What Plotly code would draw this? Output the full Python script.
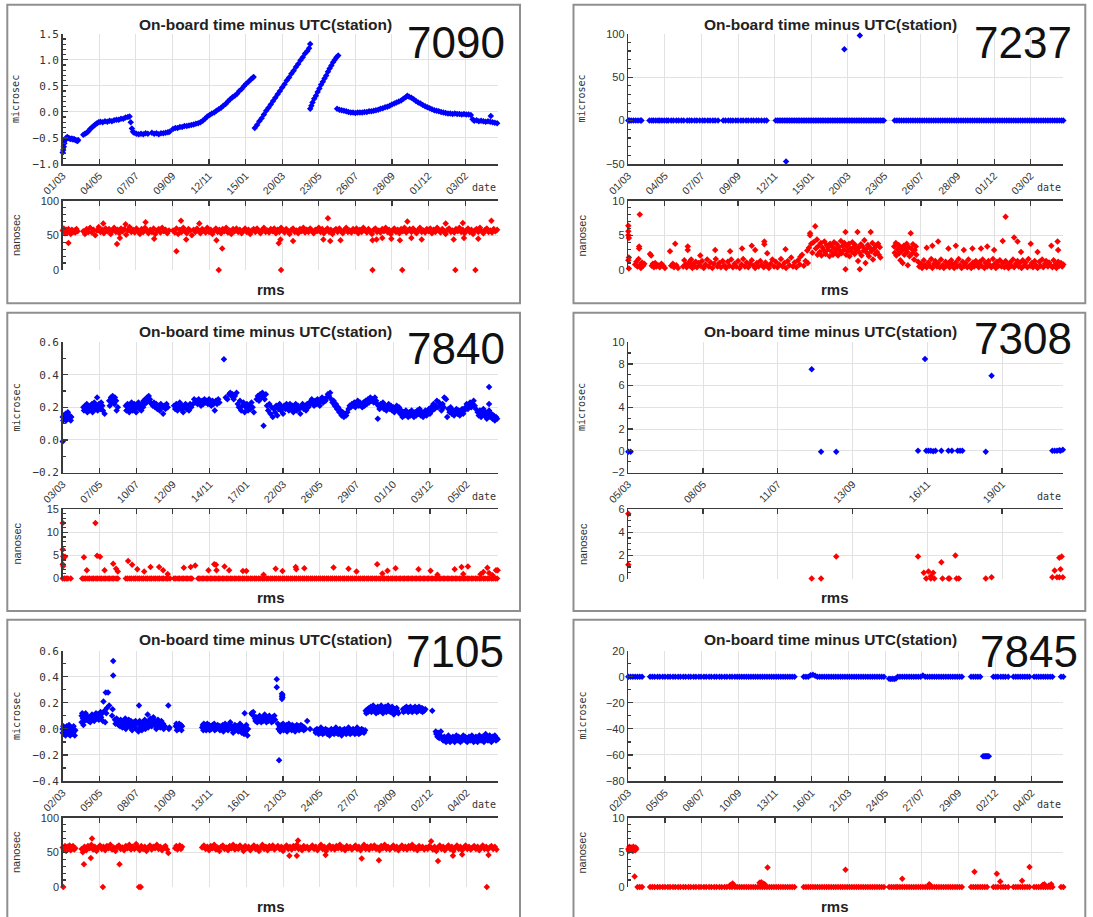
import plotly.graph_objects as go

# ---------------- tick labels (dd/mm) ----------------
TICK_DAYS = [0, 64, 128, 192, 256, 320, 384, 448, 512, 576, 640, 704]
TICK_DAYS_7308 = [0, 64, 128, 192, 256, 320]
LBL_7090 = ['01/03', '04/05', '07/07', '09/09', '12/11', '15/01', '20/03', '23/05', '26/07', '28/09', '01/12', '03/02']
LBL_7237 = ['01/03', '04/05', '07/07', '09/09', '12/11', '15/01', '20/03', '23/05', '26/07', '28/09', '01/12', '03/02']
LBL_7840 = ['03/03', '07/05', '10/07', '12/09', '14/11', '17/01', '22/03', '26/05', '29/07', '01/10', '03/12', '05/02']
LBL_7308 = ['05/03', '08/05', '11/07', '13/09', '16/11', '19/01']
LBL_7105 = ['02/03', '05/05', '08/07', '10/09', '13/11', '16/01', '21/03', '24/05', '27/07', '29/09', '02/12', '04/02']
LBL_7845 = ['02/03', '05/05', '08/07', '10/09', '13/11', '16/01', '21/03', '24/05', '27/07', '29/09', '02/12', '04/02']

# ---------------- data: (day index, value) ----------------
# 7090  on-board minus UTC (microsec)
U7090 = [
(0,-0.78),(1,-0.73),(2,-0.67),(3,-0.60),(4,-0.55),(6,-0.50),(8,-0.48),(10,-0.50),(12,-0.51),(14,-0.52),(16,-0.51),(18,-0.53),(20,-0.52),(22,-0.54),(24,-0.55),(26,-0.56),(27,-0.54),
(36,-0.44),(39,-0.42),(42,-0.40),(45,-0.37),(48,-0.33),(51,-0.30),(54,-0.27),(57,-0.24),(60,-0.22),(63,-0.20),(66,-0.19),(70,-0.20),(74,-0.18),(78,-0.19),(82,-0.17),(86,-0.18),(90,-0.16),(94,-0.15),(98,-0.15),(102,-0.13),(106,-0.13),(110,-0.11),(114,-0.10),(117,-0.09),(119,-0.20),(121,-0.32),(123,-0.38),(125,-0.40),(129,-0.42),(133,-0.43),(137,-0.42),(141,-0.43),(145,-0.41),(149,-0.42),
(156,-0.40),(160,-0.42),(164,-0.41),(168,-0.43),(172,-0.41),(176,-0.41),(180,-0.40),(184,-0.39),(187,-0.38),
(193,-0.33),(197,-0.31),(201,-0.31),(205,-0.29),(209,-0.29),(213,-0.27),(217,-0.27),(221,-0.26),(225,-0.25),(229,-0.24),(233,-0.23),(237,-0.22),(241,-0.20),(245,-0.17),(249,-0.13),(253,-0.09),(257,-0.06),(261,-0.03),(265,-0.01),(269,0.02),(273,0.05),(277,0.08),(281,0.12),(285,0.15),(289,0.20),(293,0.24),(297,0.28),(301,0.31),(305,0.35),(309,0.40),(313,0.44),(317,0.49),(321,0.54),(325,0.58),(329,0.62),(332,0.65),(334,0.67),
(336,-0.31),(340,-0.25),(344,-0.18),(348,-0.12),(352,-0.05),(356,0.02),(360,0.08),(364,0.14),(368,0.21),(372,0.27),(376,0.34),(380,0.40),(384,0.47),(388,0.53),(392,0.60),(396,0.66),(400,0.73),(404,0.79),(408,0.86),(412,0.92),(416,0.99),(420,1.05),(424,1.12),(428,1.17),(431,1.22),(433,1.30),
(433,0.06),(435,0.12),(437,0.18),(440,0.25),(443,0.31),(446,0.38),(449,0.45),(452,0.52),(455,0.58),(458,0.64),(461,0.70),(464,0.77),(467,0.83),(470,0.89),(473,0.95),(476,1.00),(479,1.05),(482,1.08),
(480,0.06),(484,0.04),(488,0.03),(492,0.02),(496,0.01),(500,0.00),(504,-0.01),(508,-0.01),(512,-0.02),(516,-0.01),(520,-0.01),(524,-0.01),(528,0.00),(532,0.00),(536,0.01),(540,0.01),(544,0.02),(548,0.03),(552,0.04),(556,0.06),(560,0.07),(564,0.09),(568,0.10),(572,0.12),(576,0.14),(580,0.16),(584,0.18),(588,0.20),(592,0.22),(596,0.25),(600,0.28),(603,0.31),(606,0.29),(610,0.27),(614,0.24),(618,0.21),(622,0.18),(626,0.16),(630,0.13),(634,0.11),(638,0.09),(642,0.07),(646,0.05),(650,0.03),(654,0.02),(658,0.01),(662,0.00),(666,-0.01),(670,-0.02),(674,-0.03),(678,-0.03),(682,-0.04),(686,-0.03),(690,-0.04),(694,-0.04),(698,-0.05),(702,-0.04),(706,-0.05),(710,-0.05),(714,-0.06),(717,-0.14),(720,-0.17),(724,-0.16),(728,-0.18),(732,-0.17),(736,-0.18),(740,-0.19),(744,-0.18),(748,-0.19),(752,-0.20),(756,-0.21),(760,-0.22),(749,-0.08)]

# 7090 rms (nanosec)
R7090 = [
(0,57),(2,60),(4,53),(6,58),(8,55),(10,59),(12,56),(14,52),(16,58),(18,55),(20,57),(22,54),(24,59),(26,56),(10,39),
(36,56),(39,52),(42,59),(45,55),(48,61),(51,54),(54,58),(57,50),(60,57),(63,62),(66,55),(69,58),(72,53),(75,60),(78,56),(81,59),(84,52),(87,57),(90,61),(93,55),(96,58),(99,53),(102,60),(105,56),(108,59),(111,51),(114,57),(117,62),(120,55),(123,58),(126,54),(129,60),(132,56),(135,52),(138,59),(141,55),(144,61),(147,57),(150,53),(153,58),(156,55),(159,60),(162,52),(165,57),(168,59),(171,54),(174,61),(177,56),(180,58),(183,53),(186,57),
(71,67),(95,37.5),(110,66),(145,69),(100,46),(160,45),
(193,57),(196,54),(199,60),(202,52),(205,58),(208,55),(211,61),(214,56),(217,53),(220,59),(223,57),(226,50),(229,58),(232,55),(235,60),(238,56),(241,53),(244,59),(247,57),(250,54),(253,61),(256,55),(259,58),(262,52),(265,57),(268,60),(271,55),(274,58),(277,53),(280,59),(283,56),(286,61),(289,54),(292,57),(295,52),(298,59),(301,56),(304,60),(307,55),(310,58),(313,53),(316,57),(319,60),(322,55),(325,58),(328,52),(331,57),(334,59),(337,55),(340,60),(343,56),(346,53),(349,58),(352,61),(355,55),(358,57),(361,54),(364,59),(367,56),(370,60),(373,53),(376,58),(379,55),(382,61),(385,57),(388,54),(391,59),(394,56),(397,52),(400,58),(403,60),(406,55),(409,57),(412,53),(415,59),(418,56),(421,61),(424,54),(427,58),(430,55),(433,60),(436,57),(439,53),(442,58),(445,56),(448,61),(451,55),(454,59),(457,53),(460,57),(463,60),(466,55),(469,58),(472,52),(475,57),(478,59),(481,55),(484,60),(487,56),(490,53),(493,58),(496,61),(499,55),(502,57),(505,54),(508,59),(511,56),(514,60),(517,53),(520,58),(523,55),(526,61),(529,57),(532,54),(535,59),(538,56),(541,52),(544,58),(547,60),(550,55),(553,57),(556,54),(559,59),(562,56),(565,61),(568,55),(571,58),(574,52),(577,57),(580,60),(583,55),(586,58),(589,53),(592,59),(595,56),(598,61),(601,54),(604,57),(607,59),(610,55),(613,60),(616,56),(619,53),(622,58),(625,61),(628,55),(631,57),(634,54),(637,59),(640,56),(643,60),(646,53),(649,58),(652,55),(655,61),(658,57),(661,54),(664,59),(667,56),(670,52),(673,58),(676,60),(679,55),(682,57),(685,54),(688,59),(691,56),(694,61),(697,55),(700,58),(703,53),(706,57),(709,60),(712,55),(715,58),(718,52),(721,57),(724,59),(727,55),(730,61),(733,56),(736,53),(739,58),(742,60),(745,55),(748,57),(751,54),(754,59),(757,56),(760,58),
(273,0),(382,0),(542,0),(594,0),(687,0),(722,0),
(207,71),(199,27),(216,44),(239,67),(279,31),(269,43),(378,38.5),(403,42),(456,44),(464,74.5),(468,42),(486,43),(542,43),(603,70),(670,67),(700,68),(750,71),
(381,44),(549,44),(559,46),(575,45),(590,43),(610,46),(628,44),(684,44),(702,46),(727,45)]

# 7237
U7237 = [
(0,0),(2,0),(5,0),(9,0),(13,0),(17,0),(21,0),(23,0),
(37,0),(41,0),(44,0),(48,0),(52,0),(55,0),(59,0),(63,0),(67,0),(70,0),(75,0),(79,0),(84,0),(88,0),(93,0),(97,0),
(103,0),(107,0),(111,0),(116,0),(120,0),(125,0),(130,0),(134,0),(139,0),(143,0),(148,0),(152,0),(157,0),
(166,0),(170,0),(175,0),(179,0),(183,0),(188,0),(192,0),(197,0),(201,0),(206,0),(210,0),(215,0),(219,0),(224,0),(228,0),(233,0),(238,0),(242,0),
(258,0),(261,0),(264,0),(267,0),(270,0),(273,0),(276,0),(279,0),(282,0),(285,0),(288,0),(291,0),(294,0),(297,0),(300,0),(303,0),(306,0),(309,0),(312,0),(315,0),(318,0),(321,0),(324,0),(327,0),(330,0),(333,0),(336,0),(339,0),(342,0),(345,0),(348,0),(351,0),(354,0),(357,0),(360,0),(363,0),(366,0),(369,0),(372,0),(375,0),(378,0),(381,0),(384,0),(387,0),(390,0),(393,0),(396,0),(399,0),(402,0),(405,0),(408,0),(411,0),(414,0),(417,0),(420,0),(423,0),(426,0),(429,0),(432,0),(435,0),(438,0),(441,0),(444,0),(447,0),
(466,0),(470,0),(474,0),(478,0),(482,0),(486,0),(490,0),(494,0),(498,0),(502,0),(506,0),(510,0),(514,0),(518,0),(522,0),(526,0),(530,0),(534,0),(538,0),(542,0),(546,0),(550,0),(554,0),(558,0),(562,0),(566,0),(570,0),(574,0),(578,0),(582,0),(586,0),(590,0),(594,0),(598,0),(602,0),(606,0),(610,0),(614,0),(618,0),(622,0),(626,0),(630,0),(634,0),(638,0),(642,0),(646,0),(650,0),(654,0),(658,0),(662,0),(666,0),(670,0),(674,0),(678,0),(682,0),(686,0),(690,0),(694,0),(698,0),(702,0),(706,0),(710,0),(714,0),(718,0),(722,0),(726,0),(730,0),(734,0),(738,0),(742,0),(746,0),(750,0),(754,0),(758,0),(761,0),
(276,-47),(378,82),(405,98)]

R7237 = [
(0,6.4),(0,5.6),(0,5.0),(1,4.6),(1,1.8),(0,1.4),(1,0.2),(19,3.4),(19,3.1),(20,8.0),
(12,0.8),(14,1.2),(16,0.5),(18,1.6),(20,0.7),(22,0.3),(24,1.1),(26,0.6),(28,0.9),(38,2.3),(40,2.1),(41,0.6),(43,0.9),(45,0.4),(47,1.0),(49,0.5),(52,0.7),(55,0.4),(58,0.9),(61,0.6),(64,0.3),(73,2.7),(75,0.6),(78,0.9),(80,0.4),(82,3.8),(84,0.7),(87,0.3),(96,0.5),(98,1.4),(100,0.8),(102,0.4),(104,3.4),(104,2.9),(106,1.1),(108,0.6),(110,1.5),(112,0.3),(114,0.9),(116,0.5),(118,1.2),
(120,0.4),(123,1.0),(126,2.1),(126,0.6),(129,1.3),(132,0.3),(135,0.8),(138,1.5),(141,0.5),(144,1.1),(147,0.3),(150,0.9),(152,2.9),(153,1.6),(156,0.5),(159,1.0),(162,0.4),(165,1.3),(168,0.7),(171,0.3),(174,1.2),(177,0.6),(178,2.7),(180,1.5),(183,0.4),(186,0.9),(189,0.5),(192,1.3),(195,0.3),(198,0.8),(199,3.1),(201,1.6),(204,0.5),(207,1.1),(210,0.4),(213,0.9),(216,3.5),(216,1.4),(219,0.6),(222,2.9),(222,0.3),(225,1.0),(228,0.5),(231,1.3),(234,0.7),(237,0.4),(238,4.1),(238,3.7),(240,1.1),(243,2.4),(243,0.6),(246,0.3),(249,0.9),(252,1.5),(255,0.5),(258,1.2),(261,0.4),(264,0.8),(267,1.6),(270,0.5),(273,1.0),(275,3.0),(276,0.3),(279,1.3),(282,0.7),(285,1.8),(288,0.5),(291,1.1),(294,0.4),(297,1.4),(300,0.8),(301,1.9),(304,2.2),(307,0.6),(310,1.3),(313,2.8),(314,1.0),
(316,3.2),(318,5.0),(318,5.3),(320,3.8),(322,2.5),(324,4.0),(327,6.3),(328,3.1),(330,4.4),(331,2.2),
(333,3.5),(335,2.6),(337,3.9),(338,2.1),(340,3.2),(342,2.8),(343,4.1),(345,2.3),(347,3.6),(348,2.9),(350,3.3),(352,2.0),(353,3.8),(355,2.7),(357,3.4),(358,2.2),(360,4.0),(362,3.0),(363,2.5),(365,3.7),(367,2.1),(368,3.3),(370,2.8),(372,4.2),(373,2.4),(375,3.5),(377,2.9),(378,3.9),(380,5.5),(380,0.1),(381,2.2),(382,3.4),(384,2.7),(386,3.8),(387,2.0),(389,3.1),(391,2.6),(392,4.0),(394,3.3),(396,2.3),(397,3.6),(399,2.9),(401,5.5),(402,1.3),(403,3.2),(405,0.1),(405,2.5),(407,3.7),(408,2.1),(410,3.4),(412,2.8),(413,4.3),(415,1.0),(416,3.0),(418,2.4),(419,3.6),(421,2.0),(423,3.2),(424,5.5),(425,2.7),(427,3.9),(428,1.5),(430,3.1),(432,2.3),(433,3.5),(435,2.6),(437,3.8),(438,2.2),(440,3.3),(441,1.8),
(465,3.4),(466,2.5),(468,3.9),(469,2.1),(471,3.0),(473,3.6),(474,2.4),(476,1.4),(477,3.2),(479,2.8),(480,1.0),(482,3.5),(483,2.2),(485,3.0),(487,3.8),(488,2.6),(489,0.7),(491,3.3),(492,2.0),(494,5.3),(495,3.1),(497,2.4),(498,3.7),(500,1.5),(501,2.9),(503,3.4),(504,2.2),
(507,1.2),(509,0.5),(512,0.9),(514,0.3),(517,1.4),(519,0.7),(522,3.2),(522,0.4),(525,1.1),(527,0.6),(530,1.6),(532,3.5),(532,0.3),(535,0.9),(537,1.3),(540,0.5),(542,4.1),(542,1.0),(545,0.4),(547,1.5),(550,0.7),(552,0.3),(555,1.2),(557,0.6),(560,3.1),(560,1.0),(562,0.4),(565,1.4),(567,0.8),(570,0.3),(573,3.5),(573,1.1),(575,0.5),(578,1.6),(580,0.7),(583,0.3),(585,1.2),(587,2.9),(588,0.6),(590,1.0),(593,0.4),(595,1.5),(598,0.7),(600,0.3),(602,3.1),(603,1.1),(605,0.5),(608,1.3),(610,0.8),(613,0.4),(615,1.2),(617,3.1),(618,0.6),(620,1.5),(623,0.3),(625,1.0),(628,3.4),(628,0.5),(630,1.3),(633,0.7),(635,0.4),(638,1.6),(640,2.9),(640,0.8),(643,0.3),(645,1.2),(648,0.6),(650,1.4),(653,0.5),(655,4.2),(655,1.0),(658,0.4),(660,7.7),(660,1.3),(663,0.7),(665,0.3),(668,1.1),(670,0.6),(673,1.5),(675,4.7),(675,0.4),(678,0.9),(681,4.1),(681,1.3),(683,0.5),(685,1.0),(687,2.6),(688,0.3),(690,1.4),(693,0.7),(695,1.1),(698,0.4),(700,1.6),(703,0.6),(704,3.8),(706,1.0),(708,0.4),(711,1.3),(713,0.7),(716,2.6),(716,0.3),(719,1.2),(721,0.6),(724,1.5),(726,0.4),(729,0.9),(731,1.3),(734,0.5),(736,1.1),(739,0.7),(740,3.5),(742,0.4),(744,1.4),(747,0.8),(749,0.3),(751,4.1),(752,2.9),(752,1.2),(754,0.6),(757,1.0),(759,0.5),(761,0.8)]

# 7840
U7840 = [
(0,0.14),(1,0.12),(2,0.15),(0,-0.01),(3,0.13),(5,0.16),(6,0.12),(8,0.14),(9,0.17),(11,0.13),(12,0.15),(14,0.12),(15,0.14),
(36,0.20),(37,0.18),(39,0.21),(40,0.19),(42,0.22),(43,0.17),(45,0.20),(46,0.18),(48,0.21),(49,0.19),(51,0.22),(52,0.17),(54,0.20),(55,0.23),(57,0.19),(58,0.21),(60,0.26),(61,0.18),(63,0.22),(64,0.20),(66,0.19),(67,0.23),(69,0.21),(70,0.18),(73,0.16),
(81,0.24),(82,0.21),(84,0.26),(85,0.23),(87,0.27),(88,0.25),(90,0.22),(91,0.26),(93,0.24),(94,0.18),(96,0.20),
(110,0.21),(111,0.18),(113,0.22),(114,0.20),(116,0.17),(117,0.21),(119,0.19),(120,0.23),(122,0.18),(123,0.20),(125,0.22),(126,0.19),(128,0.17),(129,0.21),(131,0.20),(132,0.23),(134,0.19),(135,0.21),(137,0.18),(138,0.22),(140,0.20),(141,0.24),(143,0.22),(144,0.25),(146,0.23),(147,0.26),(149,0.24),(150,0.27),(152,0.25),(153,0.23),(155,0.22),
(157,0.21),(159,0.23),(161,0.20),(163,0.22),(165,0.19),(167,0.21),(169,0.18),(171,0.22),(173,0.20),(175,0.16),(177,0.21),(179,0.19),(181,0.22),(183,0.20),
(194,0.21),(196,0.19),(198,0.22),(200,0.18),(202,0.20),(204,0.23),(206,0.19),(208,0.21),(210,0.17),(212,0.20),(214,0.22),(216,0.19),(218,0.21),(220,0.18),(222,0.22),(224,0.20),
(227,0.22),(229,0.25),(231,0.23),(233,0.24),(235,0.22),(237,0.25),(239,0.23),(241,0.21),(243,0.24),(245,0.22),(247,0.25),(249,0.23),(251,0.24),(253,0.22),(255,0.25),(257,0.23),(259,0.21),(261,0.24),(263,0.22),(265,0.18),(267,0.24),(269,0.22),(271,0.25),(273,0.23),
(281,0.495),(284,0.26),(287,0.25),(290,0.28),(292,0.29),(294,0.27),(296,0.28),(298,0.25),(300,0.27),(303,0.29),
(305,0.22),(307,0.20),(309,0.24),(311,0.18),(313,0.21),(315,0.23),(317,0.17),(319,0.20),(321,0.22),(323,0.18),(325,0.21),(327,0.19),(329,0.23),(331,0.20),(333,0.17),
(338,0.25),(340,0.27),(342,0.24),(344,0.28),(346,0.26),(348,0.29),(350,0.27),(352,0.25),(354,0.28),(350,0.087),
(356,0.21),(358,0.18),(360,0.22),(362,0.16),(364,0.20),(366,0.14),(368,0.19),(370,0.17),(372,0.21),(374,0.15),(376,0.19),(378,0.22),(380,0.18),(382,0.20),(384,0.16),(386,0.21),(388,0.19),
(390,0.22),(392,0.20),(394,0.18),(396,0.22),(398,0.19),(400,0.21),(402,0.17),(404,0.20),(406,0.22),(408,0.18),(410,0.21),(412,0.19),(414,0.16),(416,0.20),(418,0.22),(420,0.19),(422,0.21),(424,0.18),(426,0.22),(428,0.20),(430,0.23),
(432,0.22),(434,0.25),(436,0.23),(438,0.21),(440,0.24),(442,0.22),(444,0.25),(446,0.23),(448,0.21),(450,0.24),(452,0.26),(454,0.23),(456,0.25),(458,0.24),(460,0.26),(462,0.28),(464,0.27),(466,0.29),
(468,0.25),(470,0.23),(472,0.24),(474,0.21),(476,0.22),(478,0.19),(480,0.20),(482,0.17),(484,0.18),(486,0.15),(488,0.17),(490,0.14),(492,0.16),(494,0.15),(496,0.17),
(498,0.19),(500,0.21),(502,0.20),(504,0.22),(506,0.21),(508,0.23),(510,0.20),(512,0.22),(514,0.24),(516,0.21),(518,0.23),(520,0.22),(522,0.20),(524,0.23),(526,0.21),(528,0.24),(530,0.22),(532,0.25),(534,0.23),(536,0.26),(538,0.24),
(540,0.25),(542,0.23),(544,0.26),(546,0.24),(548,0.22),(549,0.13),
(550,0.21),(552,0.19),(554,0.22),(556,0.20),(558,0.23),(560,0.19),(562,0.21),(564,0.18),(566,0.20),(568,0.22),(570,0.19),(572,0.21),(574,0.18),(576,0.20),(578,0.17),(580,0.19),(582,0.21),(584,0.18),(586,0.20),
(588,0.16),(590,0.18),(592,0.14),(594,0.17),(596,0.15),(598,0.18),(600,0.16),(602,0.14),(604,0.17),(606,0.15),(608,0.18),(610,0.16),(612,0.14),(614,0.17),(616,0.15),(618,0.18),(620,0.16),(622,0.19),(624,0.15),(626,0.17),(628,0.14),(630,0.16),(632,0.18),(634,0.15),(636,0.17),(638,0.19),(640,0.16),
(642,0.20),(644,0.18),(646,0.22),(648,0.19),(650,0.21),(652,0.24),(654,0.20),(656,0.23),(658,0.21),(660,0.18),(662,0.22),(664,0.20),(665,0.26),(670,0.14),
(668,0.25),(672,0.19),(674,0.17),(676,0.20),(678,0.16),(680,0.18),(682,0.15),(684,0.17),(686,0.19),(688,0.16),(690,0.18),(692,0.15),(694,0.17),(696,0.19),(698,0.16),(700,0.18),
(702,0.20),(704,0.22),(706,0.19),(708,0.21),(710,0.23),(712,0.20),(714,0.22),(716,0.24),(718,0.21),(720,0.19),
(723,0.17),(725,0.15),(727,0.18),(729,0.14),(731,0.16),(733,0.19),(735,0.15),(737,0.17),(739,0.13),(741,0.16),(743,0.18),(745,0.14),(747,0.16),(749,0.13),(751,0.15),(753,0.12),(755,0.14),(757,0.13),
(743,0.325),(743,0.22)]

R7840 = [
(0,0),(3,0),(6,0),(9,0),(14,0),
(34,0),(37,0),(40,0),(44,0),(47,0),(51,0),(54,0),(58,0),(61,0),(65,0),(68,0),(72,0),(75,0),(79,0),(82,0),(86,0),(89,0),(93,0),(96,0),
(110,0),(113,0),(117,0),(120,0),(124,0),(127,0),(131,0),(134,0),(138,0),(141,0),(145,0),(148,0),(152,0),(155,0),(159,0),(162,0),(166,0),(169,0),(173,0),(176,0),(180,0),(183,0),(187,0),
(194,0),(197,0),(201,0),(204,0),(208,0),(211,0),(215,0),(218,0),(222,0),(225,0),
(236,0),(239,0),(243,0),(246,0),(250,0),(253,0),(257,0),(260,0),(264,0),(267,0),(271,0),(274,0),(278,0),(281,0),(285,0),(288,0),(292,0),(295,0),(299,0),(302,0),(306,0),(309,0),(313,0),(316,0),(320,0),(323,0),(327,0),(330,0),(334,0),(337,0),(341,0),(344,0),(348,0),(351,0),(355,0),(358,0),(362,0),(365,0),(369,0),(372,0),(376,0),(379,0),(383,0),(386,0),(390,0),(393,0),(397,0),(400,0),(404,0),(407,0),(411,0),(414,0),(418,0),(421,0),(425,0),(428,0),(432,0),(435,0),(439,0),(442,0),(446,0),(449,0),(453,0),(456,0),(460,0),(463,0),(467,0),(470,0),(474,0),(477,0),(481,0),(484,0),(488,0),(491,0),(495,0),(498,0),(502,0),(505,0),(509,0),(512,0),(516,0),(519,0),(523,0),(526,0),(530,0),(533,0),(537,0),(540,0),(544,0),(547,0),(551,0),(554,0),(558,0),(561,0),(565,0),(568,0),(572,0),(575,0),(579,0),(582,0),(586,0),(589,0),(593,0),(596,0),(600,0),(603,0),(607,0),(610,0),(614,0),(617,0),(621,0),(624,0),(628,0),(631,0),(635,0),(638,0),(642,0),(645,0),(649,0),(652,0),(656,0),(659,0),(663,0),(666,0),(670,0),(673,0),(677,0),(680,0),(684,0),(687,0),(691,0),(694,0),(698,0),(701,0),(705,0),(708,0),(712,0),(715,0),(719,0),(722,0),(726,0),(729,0),(733,0),(736,0),(740,0),(743,0),(747,0),(750,0),(754,0),(757,0),
(0,12.0),(0,6.3),(1,4.8),(0,3.1),(1,2.7),(4,4.7),(37,4.6),(42,1.8),(57,12.0),(60,4.9),(65,4.7),(73,1.8),(88,3.2),(93,2.1),(96,1.5),(114,3.8),(121,3.0),(130,2.0),(142,1.5),(153,2.5),(168,2.5),(175,1.8),(183,1.0),(211,2.3),(223,2.5),(231,2.8),(254,1.8),(264,3.1),(267,3.0),(268,1.8),(282,2.6),(290,1.8),(314,1.6),(320,1.6),(350,0.8),(371,2.1),(383,1.6),(406,2.5),(407,2.0),(421,2.2),(472,2.4),(498,2.1),(512,1.5),(548,3.1),(557,1.1),(566,1.7),(580,2.2),(620,2.0),(641,1.7),(653,0.8),(683,2.0),(695,2.5),(698,1.0),(706,2.6),(728,0.9),(733,1.4),(740,2.3),(743,1.2),(749,0.7),(755,1.8),(758,1.8)]

# 7308
U7308 = [(0,-0.1),(2,-0.1),(157,7.5),(165,-0.1),(178,-0.1),(248,0.0),(254,8.45),(255,0.0),(257,0.0),(259,0.0),(261,-0.05),(263,0.0),(268,0.0),(274,0.0),(277,0.0),(282,0.0),(284,0.0),(286,0.0),(306,-0.1),(311,6.9),(363,0.0),(365,0.0),(367,0.0),(369,0.05),(370,0.0),(372,0.1)]
R7308 = [(0,5.6),(0,1.2),(157,0.0),(165,0.0),(178,1.9),(248,1.9),(253,0.5),(255,0.0),(257,0.6),(259,0.2),(259,0.0),(261,0.5),(262,0.0),(268,1.4),(269,0.0),(274,0.0),(275,0.0),(280,2.0),(281,0.0),(283,0.0),(306,0.0),(311,0.1),(363,0.1),(365,0.7),(367,0.1),(369,0.1),(369,1.8),(370,0.8),(371,1.9),(372,0.1)]

# 7105
U7105 = [
(0,0.0),(0,-0.03),(1,0.02),(2,-0.04),(3,-0.01),(4,0.01),(5,-0.05),(6,-0.02),(7,0.02),(8,-0.03),(9,0.0),(10,-0.04),(11,0.03),(12,-0.02),(13,-0.05),(14,0.01),(15,-0.03),(16,0.0),(17,-0.01),(18,-0.04),(19,0.02),(20,-0.02),(21,-0.05),(22,-0.01),
(33,0.05),(33,0.10),(34,0.12),(35,0.08),(36,0.03),(37,0.11),(38,0.06),(39,0.09),(40,0.12),(41,0.07),(42,0.10),
(45,0.06),(46,0.09),(48,0.05),(49,0.08),(51,0.11),(52,0.07),(54,0.10),(55,0.06),(57,0.09),(58,0.12),(60,0.08),(61,0.11),(63,0.07),(64,0.10),(66,0.13),(67,0.09),(69,0.12),(70,0.06),
(71,0.21),(75,0.28),(79,0.28),(76,0.12),(81,0.18),(77,0.16),(73,0.14),(74,0.05),
(87,0.15),(88,0.52),(88,0.41),(86,0.10),
(91,0.07),(92,0.04),(94,0.08),(95,0.05),(97,0.03),(98,0.06),(100,0.02),(101,0.07),(103,0.04),(104,0.01),(106,0.06),(107,0.03),(109,0.08),(110,0.00),(112,0.05),(113,0.02),(115,0.07),(116,0.04),(118,0.01),(119,0.06),(121,-0.01),(122,0.03),(124,0.05),(125,0.02),(127,0.06),(128,0.00),
(133,0.18),
(131,0.04),(132,-0.02),(134,0.06),(135,0.01),(137,0.03),(138,-0.01),(140,0.05),(141,0.02),(143,0.07),(144,0.00),(146,0.04),(148,0.11),(149,0.01),(150,0.06),(152,0.03),(153,0.08),(155,0.02),(157,0.05),(158,0.09),(160,0.03),(161,0.06),(163,0.00),(164,0.04),(166,0.07),(167,0.02),(169,0.05),(170,0.01),(172,0.06),(173,0.03),(175,0.04),(176,0.00),(178,0.02),
(184,0.18),(185,0.0),(186,0.01),
(197,0.02),(198,0.04),(199,-0.01),(200,0.03),(202,0.0),(203,0.04),(204,0.01),(206,0.03),(207,-0.01),(208,0.02),
(243,0.01),(244,0.03),(245,-0.01),(246,0.04),(247,0.02),(248,0.0),(249,0.03),(250,-0.01),(251,0.02),(252,0.04),(254,0.01),(255,0.03),(256,-0.01),(258,0.02),(259,0.0),(261,0.03),(262,0.01),(264,0.04),(265,-0.01),(267,0.02),(268,0.0),(270,0.03),(271,0.01),(273,0.02),(274,-0.01),
(276,0.02),(277,0.00),(279,0.03),(280,-0.02),(282,0.01),(283,0.04),(285,0.0),(286,0.02),(288,-0.01),(289,0.03),(291,0.01),(292,0.05),(294,0.0),(295,0.02),(297,-0.03),(298,0.01),(300,0.03),(301,-0.01),(303,0.02),(304,0.0),(306,-0.02),(307,0.02),(309,0.04),(310,-0.01),
(312,-0.03),(313,0.02),(315,0.0),(316,-0.04),(317,0.12),(318,0.01),(319,-0.02),(320,0.03),(322,-0.05),(323,0.0),
(329,0.12),(330,0.11),(332,0.13),(333,0.10),(335,0.08),
(336,0.06),(337,0.09),(339,0.05),(340,0.08),(342,0.06),(343,0.10),(345,0.07),(346,0.05),(348,0.09),(349,0.06),(351,0.08),(352,0.11),(354,0.07),(355,0.05),(357,0.09),(358,0.06),(360,0.10),(361,0.07),(363,0.08),(364,0.05),(366,0.09),(367,0.06),(369,0.10),(370,0.07),
(373,0.38),(373,0.32),(377,-0.24),(382,0.25),(382,0.23),(382,0.27),(383,0.26),(383,0.24),
(375,0.04),(376,0.0),(378,0.02),(379,-0.02),(381,0.03),(382,0.0),(384,0.04),(385,-0.01),(387,0.02),(388,0.0),(390,0.03),(391,-0.02),(393,0.01),(394,0.04),(396,0.0),(397,0.02),(399,-0.01),(400,0.03),(402,0.0),(403,0.02),(405,-0.02),(406,0.01),(408,0.03),(409,0.0),(411,0.02),(412,-0.01),(414,0.01),(415,0.03),(417,0.0),(418,0.02),(420,-0.01),(421,0.01),(423,0.0),
(426,0.06),(431,0.0),
(440,-0.01),(441,-0.03),(443,0.0),(444,-0.02),(446,-0.04),(447,-0.01),(449,-0.03),(450,0.01),(452,-0.02),(453,-0.04),(455,-0.01),(456,-0.03),(458,0.0),(459,-0.02),(461,-0.04),(462,-0.01),(464,-0.03),(465,-0.05),(467,-0.02),(468,0.0),(470,-0.03),(471,-0.01),(473,-0.04),(474,-0.02),(476,0.01),(477,-0.03),(479,-0.01),(480,-0.04),(482,-0.02),(483,0.0),(485,-0.03),(486,-0.05),(488,-0.01),(489,-0.03),(491,0.0),(492,-0.02),(494,-0.04),(495,-0.01),(497,-0.03),(498,0.01),(500,-0.02),(501,-0.04),(503,-0.01),(504,-0.03),(506,0.0),(507,-0.02),(509,-0.04),(510,-0.01),(512,-0.03),(513,0.01),(515,-0.02),(516,-0.04),(518,-0.01),(519,-0.03),(521,0.0),(522,-0.02),(524,-0.01),(525,-0.03),(527,-0.01),
(528,0.14),(529,0.12),(531,0.15),(532,0.13),(534,0.16),(535,0.14),(537,0.17),(538,0.13),(540,0.15),(541,0.18),(543,0.14),(544,0.16),(546,0.12),(547,0.15),(549,0.17),(550,0.13),(552,0.16),(553,0.14),(555,0.18),(556,0.15),(558,0.12),(559,0.16),(561,0.14),(562,0.17),(564,0.13),(565,0.15),(567,0.18),(568,0.14),(570,0.16),(571,0.13),(573,0.15),(574,0.17),(576,0.14),(577,0.11),(579,0.15),(580,0.13),(582,0.16),(583,0.14),(585,0.12),
(593,0.15),(594,0.13),(596,0.16),(597,0.14),(599,0.17),(600,0.15),(602,0.13),(603,0.16),(605,0.14),(606,0.17),(608,0.15),(609,0.13),(611,0.16),(612,0.14),(614,0.17),(615,0.15),(617,0.13),(618,0.16),(620,0.14),(621,0.17),(623,0.15),(624,0.14),(626,0.16),(627,0.13),(629,0.15),(630,0.14),(632,0.15),
(644,0.14),
(650,-0.02),(651,-0.04),(653,-0.06),(654,-0.03),(656,-0.07),(657,-0.05),(659,-0.02),(660,-0.06),
(662,-0.07),(663,-0.09),(665,-0.06),(666,-0.08),(668,-0.10),(669,-0.07),(671,-0.09),(672,-0.05),(674,-0.08),(675,-0.10),(677,-0.07),(678,-0.09),(680,-0.06),(681,-0.08),(683,-0.10),(684,-0.07),(686,-0.05),(687,-0.08),(689,-0.09),(690,-0.06),(692,-0.08),(693,-0.10),(695,-0.07),(696,-0.09),(698,-0.05),(699,-0.08),(701,-0.06),(702,-0.09),(704,-0.07),(705,-0.10),(707,-0.08),(708,-0.06),(710,-0.09),(711,-0.07),(713,-0.05),(714,-0.08),(716,-0.10),(717,-0.07),(719,-0.09),(720,-0.06),(722,-0.08),(723,-0.10),(725,-0.07),(726,-0.05),(728,-0.08),(729,-0.09),(731,-0.06),(732,-0.08),(734,-0.10),(735,-0.07),(737,-0.04),(738,-0.08),(740,-0.06),(741,-0.09),(743,-0.07),(744,-0.05),(746,-0.08),(747,-0.10),(749,-0.06),(750,-0.08),(752,-0.07),(753,-0.05),(755,-0.09),(756,-0.07),(758,-0.08)]

R7105 = [
(0,57),(2,54),(4,59),(6,52),(8,58),(10,55),(12,60),(14,53),(16,57),(18,59),(20,54),(22,56),
(33,55),(35,50),(38,58),(41,53),(44,59),(47,56),(50,61),(53,54),(56,58),(59,52),(62,57),(65,60),(68,55),(71,58),(74,53),(77,59),(80,56),(83,61),(86,54),(89,57),(92,52),(95,58),(98,60),(101,55),(104,57),(107,53),(110,59),(113,56),(116,61),(119,54),(122,58),(125,55),(128,62),(131,57),(134,53),(137,59),(140,55),(143,58),(146,52),(149,57),(152,60),(155,54),(158,58),(161,56),(164,61),(167,55),(170,58),(173,53),(176,57),(179,59),(182,54),(196,56),(198,59),(200,54),(202,57),(204,60),(206,55),(208,58),
(243,57),(246,60),(249,55),(252,58),(255,53),(258,59),(261,56),(264,61),(267,54),(270,57),(273,52),(276,58),(279,60),(282,55),(285,57),(288,53),(291,59),(294,56),(297,61),(300,54),(303,58),(306,55),(309,60),(312,57),(315,52),(318,59),(321,56),(324,58),(327,53),(330,57),(333,60),(336,55),(339,58),(342,52),(345,57),(348,61),(351,55),(354,58),(357,53),(360,59),(363,56),(366,60),(369,54),(372,57),(375,59),(378,55),(381,58),(384,52),(387,57),(390,60),(393,55),(396,58),(399,54),(402,59),(405,56),(408,61),(411,55),(414,57),(417,53),(420,59),(423,56),(426,58),(429,54),(432,57),(435,60),(438,55),(441,58),(444,53),(447,57),(450,61),(453,55),(456,58),(459,52),(462,57),(465,60),(468,55),(471,58),(474,54),(477,59),(480,56),(483,61),(486,55),(489,57),(492,53),(495,59),(498,56),(501,58),(504,54),(507,57),(510,60),(513,55),(516,58),(519,53),(522,57),(525,61),(528,55),(531,58),(534,54),(537,59),(540,56),(543,60),(546,55),(549,57),(552,53),(555,59),(558,56),(561,61),(564,55),(567,58),(570,54),(573,57),(576,60),(579,55),(582,58),(585,53),(588,57),(591,60),(594,55),(597,58),(600,54),(603,59),(606,56),(609,61),(612,55),(615,57),(618,53),(621,59),(624,56),(627,58),(630,54),(633,57),(636,55),(639,59),(642,57),(645,54),(648,58),(651,52),(654,57),(657,60),(660,55),(663,58),(666,53),(669,57),(672,60),(675,55),(678,58),(681,52),(684,57),(687,60),(690,55),(693,58),(696,53),(699,57),(702,60),(705,55),(708,58),(711,54),(714,57),(717,59),(720,55),(723,58),(726,53),(729,57),(732,60),(735,55),(738,58),(741,54),(744,57),(747,59),(750,55),(753,58),(756,54),(759,57),(762,56),
(1,0),(37,33),(49,42),(51,70),(70,0),(99,33),(133,0),(136,0),(184,49),(410,67),(395,45),(408,45),(458,46),(521,41),(551,38.5),(642,66),(654,37.5),(680,45),(696,47),(739,0),(742,46)]

# 7845
U7845 = [
(0,0),(4,0),(8,0),(12,0),(16,0),(20,0),(24,0),
(38,0),(42,0),(46,0),(51,0),(55,0),(60,0),(64,0),(69,0),(73,0),(78,0),(82,0),(87,0),(91,0),(96,0),(100,0),(105,0),(109,0),(114,0),(118,0),(123,0),(127,0),(132,0),(136,0),(141,0),(145,0),(150,0),(154,0),(159,0),(163,0),(168,0),(172,0),(177,0),(181,0),(186,0),(190,0),
(194,0),(198,0),(202,0),(206,0),(210,0),(214,0),(218,0),(222,0),(226,0),(230,0),(234,0),(238,0),(242,0),(246,0),(250,0),(254,0),(258,0),(262,0),(266,0),(270,0),(274,0),(278,0),(282,0),(286,0),(290,0),
(306,0),(310,0),(314,0),(318,1.2),(322,1.5),(326,0.8),
(330,0),(334,0),(338,0),(342,0),(346,0),(350,0),(354,0),(358,0),(362,0),(366,0),(370,0),(374,0),(378,0),(382,0),(386,0),(390,0),(394,0),(398,0),(402,0),(406,0),(410,0),(414,0),(418,0),(422,0),(426,0),(430,0),(434,0),(438,0),(442,0),(446,0),
(455,-1.6),(458,-1.8),(461,-1.5),(464,-1.7),(467,-1.4),
(470,0),(474,0),(478,0),(482,0),(486,0),(490,0),(494,0),(498,0),(502,0),(506,0),(510,0),(514,1.0),(518,0),(522,0),(526,0),(530,0),(534,0),(538,0),(542,0),(546,0),(550,0),(554,0),(558,0),(562,0),(566,0),(570,0),(574,0),(578,0),(582,0),
(598,0),(602,0),(606,0),(610,0),(614,0),
(619,-61),(621,-61),(623,-61),(625,-61),(627,-61),(629,-61),
(637,0),(641,0),(645,0),(650,0),(654,0),(658,0),(663,0),
(672,0),(676,0),(680,0),(684,0),(688,0),(692,0),(696,0),(700,0),
(708,0),(712,0),(716,0),(720,0),(724,0),(728,0),(732,0),(736,0),(740,0),
(755,0),(759,0)]

R7845 = [
(0,5.5),(1,5.2),(2,5.8),(3,5.4),(4,5.6),(5,5.3),(6,5.7),(7,5.5),(8,5.2),(9,5.8),(10,5.4),(11,5.6),(12,5.3),(13,5.7),(14,5.5),(11,1.5),
(16,0),(20,0),(24,0),
(38,0),(42,0),(46,0),(51,0),(55,0),(60,0),(64,0),(69,0),(73,0),(78,0),(82,0),(87,0),(91,0),(96,0),(100,0),(105,0),(109,0),(114,0),(118,0),(123,0),(127,0),(132,0),(136,0),(141,0),(145,0),(150,0),(154,0),(159,0),(163,0),(168,0),(172,0),(177,0),(181,0),(186,0),(190,0),
(194,0),(198,0),(202,0),(206,0),(210,0),(214,0),(218,0),(222,0),(226,0),(230,0),(234,0),(238,0),(242,0),(246,0),(250,0),(254,0),(258,0),(262,0),(266,0),(270,0),(274,0),(278,0),(282,0),(286,0),(290,0),
(306,0),(310,0),(314,0),(318,0),(322,0),(326,0),
(330,0),(334,0),(338,0),(342,0),(346,0),(350,0),(354,0),(358,0),(362,0),(366,0),(370,0),(374,0),(378,0),(382,0),(386,0),(390,0),(394,0),(398,0),(402,0),(406,0),(410,0),(414,0),(418,0),(422,0),(426,0),(430,0),(434,0),(438,0),(442,0),(446,0),
(455,0),(459,0),(463,0),(467,0),
(470,0),(474,0),(478,0),(482,0),(486,0),(490,0),(494,0),(498,0),(502,0),(506,0),(510,0),(514,0),(518,0),(522,0),(526,0),(530,0),(534,0),(538,0),(542,0),(546,0),(550,0),(554,0),(558,0),(562,0),(566,0),(570,0),(574,0),(578,0),(582,0),
(598,0),(602,0),(606,0),(610,0),(614,0),(618,0),(622,0),(626,0),
(637,0),(641,0),(645,0),(650,0),(654,0),(658,0),(663,0),
(672,0),(676,0),(680,0),(684,0),(688,0),(692,0),(696,0),(700,0),
(708,0),(712,0),(716,0),(720,0),(724,0),(728,0),(732,0),(736,0),(740,0),
(755,0),(759,0),
(178,0.3),(182,0.5),(184,0.3),(229,0.6),(232,0.7),(235,0.5),(238,0.4),(243,2.8),(379,2.5),(478,1.2),(525,0.4),(527,0.2),(604,2.2),(643,1.9),(649,0.8),(687,0.9),(700,2.9),(723,0.3),(726,0.4),(734,0.2),(738,0.4)]

# ---------------- layout / style ----------------
W, H = 1093, 917
SANS = "Liberation Sans, Arial, Helvetica, sans-serif"
MONO = "DejaVu Sans Mono, monospace"
AX = "#3a3a3a"
GRID = "#e2e2e2"
TXT = "#333333"
BLUE = "#0000ff"
RED = "#ff0000"

COL_X = [0.0, 565.6]
ROW_Y = [0.0, 308.5, 617.0]

PANELS = [
    dict(name='7090', col=0, row=0, tv=TICK_DAYS, lbl=LBL_7090, xmax=761, up=U7090, low=R7090,
         yr=(-1.0, 1.5), yd=0.5, ym=0.1, fmt='.1f', mono=True, lr=(0, 100), ld=50, lm=10, num=(507, 42.5)),
    dict(name='7237', col=1, row=0, tv=TICK_DAYS, lbl=LBL_7237, xmax=761, up=U7237, low=R7237,
         yr=(-50, 100), yd=50, ym=10, fmt='d', mono=False, lr=(0, 10), ld=5, lm=1, num=(1073.5, 42.5)),
    dict(name='7840', col=0, row=1, tv=TICK_DAYS, lbl=LBL_7840, xmax=758, up=U7840, low=R7840,
         yr=(-0.2, 0.6), yd=0.2, ym=0.1, fmt='.1f', mono=True, lr=(0, 15), ld=5, lm=1, num=(507, 348)),
    dict(name='7308', col=1, row=1, tv=TICK_DAYS_7308, lbl=LBL_7308, xmax=372.4, up=U7308, low=R7308,
         yr=(-2, 10), yd=2, ym=1, fmt='d', mono=False, lr=(0, 6), ld=2, lm=0.5, num=(1074, 338)),
    dict(name='7105', col=0, row=2, tv=TICK_DAYS, lbl=LBL_7105, xmax=758, up=U7105, low=R7105,
         yr=(-0.4, 0.6), yd=0.2, ym=0.1, fmt='.1f', mono=True, lr=(0, 100), ld=50, lm=10, num=(506, 651)),
    dict(name='7845', col=1, row=2, tv=TICK_DAYS, lbl=LBL_7845, xmax=759, up=U7845, low=R7845,
         yr=(-80, 20), yd=20, ym=10, fmt='d', mono=False, lr=(0, 10), ld=5, lm=1, num=(1079.5, 651)),
]


def pxx(x):
    return x / W


def pyy(y):
    return 1 - y / H


def names(n):
    if n == 1:
        return 'xaxis', 'yaxis', 'x', 'y'
    return f'xaxis{n}', f'yaxis{n}', f'x{n}', f'y{n}'


fig = go.Figure()
layout = {}
annotations = []
shapes = []

for i, p in enumerate(PANELS):
    ox = COL_X[p['col']]
    oy = ROW_Y[p['row']]
    x0, x1 = 62.7 + ox, 497.7 + ox
    ux, uy, uxr, uyr = names(2 * i + 1)
    lx, ly, lxr, lyr = names(2 * i + 2)

    common_x = dict(range=[0, p['xmax']], tickmode='array', tickvals=p['tv'], ticktext=p['lbl'],
                    ticks='inside', ticklen=5, tickwidth=1.2, tickcolor=AX,
                    showline=True, linecolor=AX, linewidth=1.5,
                    showgrid=True, gridcolor=GRID, gridwidth=1, zeroline=False,
                    domain=[pxx(x0), pxx(x1)], fixedrange=True)
    layout[ux] = dict(common_x, anchor=uyr, side='bottom', tickangle=-45,
                      tickfont=dict(family=SANS, size=10.5, color=TXT))
    layout[lx] = dict(common_x, anchor=lyr, side='top', showticklabels=False)

    yfont = dict(family=MONO if p['mono'] else SANS, size=11, color=TXT)
    layout[uy] = dict(range=list(p['yr']), tickmode='linear', tick0=p['yr'][0], dtick=p['yd'],
                      tickformat=p['fmt'], ticks='inside', ticklen=5, tickwidth=1.2, tickcolor=AX,
                      minor=dict(tickmode='linear', tick0=p['yr'][0], dtick=p['ym'], ticks='inside',
                                 ticklen=3, tickcolor=AX, showgrid=False),
                      showline=True, linecolor=AX, linewidth=1.5, showgrid=True, gridcolor=GRID,
                      zeroline=False, tickfont=yfont, anchor=uxr,
                      domain=[pyy(164 + oy), pyy(33.7 + oy)], fixedrange=True)
    layout[ly] = dict(range=list(p['lr']), tickmode='linear', tick0=0, dtick=p['ld'],
                      ticks='inside', ticklen=5, tickwidth=1.2, tickcolor=AX,
                      minor=dict(tickmode='linear', tick0=0, dtick=p['lm'], ticks='inside',
                                 ticklen=3, tickcolor=AX, showgrid=False),
                      showline=True, linecolor=AX, linewidth=1.5, showgrid=True, gridcolor=GRID,
                      zeroline=False, tickfont=dict(family=SANS, size=11, color=TXT), anchor=lxr,
                      domain=[pyy(270 + oy), pyy(200.7 + oy)], fixedrange=True)

    for data, xr, yr, col in ((p['up'], uxr, uyr, BLUE), (p['low'], lxr, lyr, RED)):
        fig.add_trace(go.Scatter(
            x=[d for d, v in data], y=[v for d, v in data], xaxis=xr, yaxis=yr,
            mode='markers', marker=dict(symbol='diamond', size=5, color=col, line=dict(width=0)),
            cliponaxis=False, showlegend=False, hoverinfo='skip'))

    # panel frame
    fx0, fx1 = (7.3, 520.0) if p['col'] == 0 else (573.5, 1085.3)
    fy0 = [4.7, 312.7, 619.7][p['row']]
    fy1 = [303.3, 611.0, 925.0][p['row']]
    shapes.append(dict(type='rect', xref='paper', yref='paper', x0=pxx(fx0), x1=pxx(fx1),
                       y0=pyy(fy1), y1=pyy(fy0), line=dict(color='#8f8f8f', width=2), layer='above'))

    title_y = [24.5, 331.0, 639.0][p['row']]
    tcx = 265.5 if p['col'] == 0 else 830.0
    rcx = 270.5 if p['col'] == 0 else 835.0
    annotations += [
        dict(text='On-board time minus UTC(station)', x=pxx(tcx), y=pyy(title_y), xref='paper', yref='paper',
             xanchor='center', yanchor='middle', showarrow=False,
             font=dict(family=SANS, size=15.5, color='#222222', weight='bold')),
        dict(text=p['name'], x=pxx(p['num'][0]), y=pyy(p['num'][1]), xref='paper', yref='paper',
             xanchor='right', yanchor='middle', showarrow=False,
             font=dict(family=SANS, size=44, color='#111111', weight=300)),
        dict(text='microsec', x=pxx(16 + ox), y=pyy(99 + oy), xref='paper', yref='paper', textangle=-90,
             xanchor='center', yanchor='middle', showarrow=False, font=dict(family=MONO, size=10, color=TXT)),
        dict(text='nanosec', x=pxx(16.7 + ox), y=pyy(235.3 + oy), xref='paper', yref='paper', textangle=-90,
             xanchor='center', yanchor='middle', showarrow=False, font=dict(family=SANS, size=11, color=TXT)),
        dict(text='date', x=pxx(497.5 + ox), y=pyy(187.7 + oy), xref='paper', yref='paper',
             xanchor='right', yanchor='middle', showarrow=False, font=dict(family=MONO, size=10, color=TXT)),
        dict(text='rms', x=pxx(rcx), y=pyy(289.3 + oy), xref='paper', yref='paper',
             xanchor='center', yanchor='middle', showarrow=False,
             font=dict(family=SANS, size=15, color='#222222', weight='bold')),
    ]

fig.update_layout(**layout)
fig.update_layout(width=W, height=H, margin=dict(l=0, r=0, t=0, b=0), template='none',
                  paper_bgcolor='white', plot_bgcolor='white', showlegend=False,
                  annotations=annotations, shapes=shapes)

fig.write_html("out.html", config={'displayModeBar': False, 'staticPlot': True},
               post_script="document.body.style.margin='0px';document.body.style.overflow='hidden';")
